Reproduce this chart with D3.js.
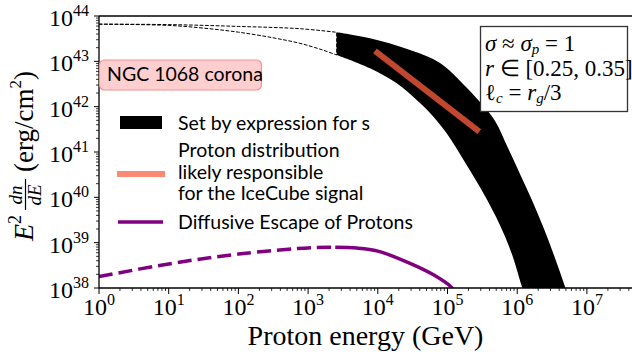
<!DOCTYPE html>
<html>
<head>
<meta charset="utf-8">
<script src="https://cdn.jsdelivr.net/npm/d3@7"></script>
<style>
body { margin: 0; background: #fff; }
svg { display: block; }
.serif { font-family: "Liberation Serif", "Times New Roman", serif; }
.sans { font-family: Lato, "DejaVu Sans", sans-serif; font-size: 19.5px; }
</style>
</head>
<body>
<svg id="chart" width="632" height="356"></svg>
<script>
// band "set by expression for s" : [E (GeV), E^2 dn/dE (erg/cm^2)]
var bandUpper = [[2.57e3, 4.37e43], [7.73e3, 3.22e43], [2.9e4, 1.77e43], [7.8e4, 9.17e42],
    [1.67e5, 3.16e42], [2.92e5, 1.26e42], [4.81e5, 4.81e41], [7.38e5, 1.22e41],
    [1.1e6, 3.25e40], [1.63e6, 8.67e39], [2.34e6, 2.31e39], [3.37e6, 5.3e38],
    [4.85e6, 1.06e38], [6.1e6, 3.2e37]];
var bandLower = [[2.57e3, 1.38e43], [7.73e3, 7.0e42], [1.87e4, 3.27e42], [3.61e4, 1.4e42],
    [5.61e4, 7.23e41], [9.73e4, 2.58e41], [1.88e5, 5.14e40], [3.26e5, 1.24e40],
    [5.66e5, 2.43e39], [8.41e5, 5.57e38], [1.17e6, 1.06e38], [1.43e6, 4.2e37]];

// dashed continuation of the band at low energy
var dashUpper = [[1, 6.6e43], [10, 6.46e43], [100, 5.89e43], [760, 5.25e43], [2.57e3, 4.37e43]];
var dashLower = [[1, 6.6e43], [10, 6.2e43], [31.6, 5.4e43], [100, 4.4e43], [316, 3.3e43],
    [760, 2.5e43], [1.58e3, 1.8e43], [2.57e3, 1.38e43]];

// proton distribution for the IceCube signal
var icecube = [[9.1e3, 1.7e43], [2.86e5, 2.8e41]];

// diffusive escape of protons
var escapeDashed = [[1, 1.78e38], [10, 3.4e38], [100, 5.6e38], [1.17e3, 7.8e38], [2.45e3, 7.9e38]];
var escapeSolid = [[2.45e3, 7.9e38], [5e3, 7.6e38], [1e4, 6.5e38], [2.9e4, 3.5e38],
    [6.3e4, 1.95e38], [1.15e5, 1.02e38], [1.4e5, 6.3e37]];

var xMajor = [1e0, 1e1, 1e2, 1e3, 1e4, 1e5, 1e6, 1e7];
var yMajor = [1e38, 1e39, 1e40, 1e41, 1e42, 1e43, 1e44];

var legendLabels = ["Set by expression for s",
    ["Proton distribution", "likely responsible", "for the IceCube signal"],
    "Diffusive Escape of Protons"];

var svg = d3.select("#chart"),
    width = +svg.attr("width"),
    height = +svg.attr("height");

var plotLeft = 99, plotTop = 16, plotBottom = 288;

var x = d3.scaleLog().domain([1, Math.pow(10, 7.647)]).range([plotLeft, width]);
var y = d3.scaleLog().domain([1e38, 1e44]).range([plotBottom, plotTop]);

svg.append("clipPath").attr("id", "plot-area")
    .append("rect")
    .attr("x", plotLeft).attr("y", plotTop)
    .attr("width", width - plotLeft).attr("height", plotBottom - plotTop);

var plot = svg.append("g").attr("clip-path", "url(#plot-area)");

var line = d3.line()
    .x(function (d) { return x(d[0]); })
    .y(function (d) { return y(d[1]); })
    .curve(d3.curveCatmullRom.alpha(0.5));

function closedShape(a, b) {
    return line(a) + line(b.slice().reverse()).replace(/^M/, "L") + "Z";
}

// black band
plot.append("path")
    .attr("d", closedShape(bandUpper, bandLower))
    .attr("fill", "#000");

// dashed outline at low energies
plot.append("path")
    .attr("d", closedShape(dashUpper, dashLower))
    .attr("fill", "none")
    .attr("stroke", "#000")
    .attr("stroke-width", 1)
    .attr("stroke-dasharray", "3.7,1.6");

// IceCube proton distribution
plot.append("path")
    .attr("d", line(icecube))
    .attr("fill", "none")
    .attr("stroke", "#c2472f")
    .attr("stroke-width", 6);

// diffusive escape
plot.append("path")
    .attr("d", line(escapeDashed))
    .attr("fill", "none")
    .attr("stroke", "#800080")
    .attr("stroke-width", 3.5)
    .attr("stroke-dasharray", "14,6");
plot.append("path")
    .attr("d", line(escapeSolid))
    .attr("fill", "none")
    .attr("stroke", "#800080")
    .attr("stroke-width", 3.5);

// minor ticks
var xMinor = [], yMinor = [];
xMajor.forEach(function (v) {
    for (var m = 2; m < 10; m++) if (v * m < x.domain()[1]) xMinor.push(v * m);
});
yMajor.slice(0, -1).forEach(function (v) {
    for (var m = 2; m < 10; m++) yMinor.push(v * m);
});

var axes = svg.append("g").attr("stroke", "#000");

axes.selectAll(".xminor").data(xMinor).enter().append("line")
    .attr("x1", function (d) { return x(d); }).attr("x2", function (d) { return x(d); })
    .attr("y1", plotBottom).attr("y2", plotBottom + 3).attr("stroke-width", 0.8);
axes.selectAll(".xmajor").data(xMajor).enter().append("line")
    .attr("x1", function (d) { return x(d); }).attr("x2", function (d) { return x(d); })
    .attr("y1", plotBottom).attr("y2", plotBottom + 6).attr("stroke-width", 1);
axes.selectAll(".yminor").data(yMinor).enter().append("line")
    .attr("y1", function (d) { return y(d); }).attr("y2", function (d) { return y(d); })
    .attr("x1", plotLeft).attr("x2", plotLeft - 3).attr("stroke-width", 0.8);
axes.selectAll(".ymajor").data(yMajor).enter().append("line")
    .attr("y1", function (d) { return y(d); }).attr("y2", function (d) { return y(d); })
    .attr("x1", plotLeft).attr("x2", plotLeft - 5).attr("stroke-width", 1);

// spines
axes.append("line").attr("x1", plotLeft).attr("x2", plotLeft).attr("y1", plotTop).attr("y2", plotBottom).attr("stroke-width", 1.3);
axes.append("line").attr("x1", plotLeft).attr("x2", width).attr("y1", plotBottom).attr("y2", plotBottom).attr("stroke-width", 1.3);
axes.append("line").attr("x1", plotLeft).attr("x2", width).attr("y1", plotTop).attr("y2", plotTop).attr("stroke-width", 1.3);

function powLabel(sel) {
    sel.append("tspan").text("10");
    sel.append("tspan").attr("dy", -10).attr("font-size", 16)
        .text(function (d) { return Math.round(Math.log10(d)); });
}

svg.selectAll(".xlab").data(xMajor).enter().append("text")
    .attr("class", "serif")
    .attr("font-size", 24)
    .attr("text-anchor", "middle")
    .attr("x", function (d) { return x(d); })
    .attr("y", 315)
    .call(powLabel);

svg.selectAll(".ylab").data(yMajor).enter().append("text")
    .attr("class", "serif")
    .attr("font-size", 24)
    .attr("text-anchor", "end")
    .attr("x", plotLeft - 10)
    .attr("y", function (d) { return y(d) + 10; })
    .call(powLabel);

// axis titles
svg.append("text")
    .attr("class", "serif")
    .attr("font-size", 28)
    .attr("text-anchor", "middle")
    .attr("x", (plotLeft + width) / 2)
    .attr("y", 345)
    .text("Proton energy (GeV)");

var yt = svg.append("g")
    .attr("class", "serif")
    .attr("transform", "translate(33," + (plotTop + plotBottom) / 2 + ") rotate(-90)");
var e2 = yt.append("text").attr("x", -89).attr("y", 0).attr("font-size", 28);
e2.append("tspan").attr("font-style", "italic").text("E");
e2.append("tspan").attr("font-size", 18).attr("dy", -12).text("2");
yt.append("text").attr("x", -43).attr("y", -11).attr("font-size", 19)
    .attr("text-anchor", "middle").attr("font-style", "italic").text("dn");
yt.append("line").attr("x1", -58).attr("x2", -27).attr("y1", -7.5).attr("y2", -7.5)
    .attr("stroke", "#000").attr("stroke-width", 1.2);
yt.append("text").attr("x", -43).attr("y", 8).attr("font-size", 19)
    .attr("text-anchor", "middle").attr("font-style", "italic").text("dE");
var unit = yt.append("text").attr("x", -20).attr("y", 0).attr("font-size", 27);
unit.append("tspan").text("(erg/cm");
unit.append("tspan").attr("font-size", 17).attr("dy", -12).text("2");
unit.append("tspan").attr("dy", 12).text(")");

// NGC 1068 label
svg.append("rect")
    .attr("x", 99.5).attr("y", 60).attr("width", 162).attr("height", 30)
    .attr("rx", 5)
    .attr("fill", "#ffcfcf")
    .attr("stroke", "#f29292")
    .attr("stroke-width", 1.2);
svg.append("text").attr("class", "sans")
    .attr("x", 107).attr("y", 81)
    .text("NGC 1068 corona");

// legend
var legend = svg.append("g").attr("class", "sans");
legend.append("rect").attr("x", 120).attr("y", 116).attr("width", 42).attr("height", 13).attr("fill", "#000");
legend.append("text").attr("x", 178).attr("y", 130).text(legendLabels[0]);
legend.append("line").attr("x1", 117).attr("x2", 165).attr("y1", 174).attr("y2", 174)
    .attr("stroke", "#fa8a74").attr("stroke-width", 6);
legendLabels[1].forEach(function (t, i) {
    legend.append("text").attr("x", 178).attr("y", 157 + i * 21.7).text(t);
});
legend.append("line").attr("x1", 118).attr("x2", 163).attr("y1", 222).attr("y2", 222)
    .attr("stroke", "#800080").attr("stroke-width", 3.5);
legend.append("text").attr("x", 178).attr("y", 228.5).text(legendLabels[2]);

// parameter box
svg.append("rect")
    .attr("x", 480.5).attr("y", 26.5).attr("width", 147).attr("height", 85)
    .attr("fill", "#fff").attr("stroke", "#333").attr("stroke-width", 1.3);
var box = svg.append("g").attr("class", "serif").attr("font-size", 23);
var l1 = box.append("text").attr("x", 485).attr("y", 51);
l1.append("tspan").attr("font-style", "italic").text("σ");
l1.append("tspan").text(" ≈ ");
l1.append("tspan").attr("font-style", "italic").text("σ");
l1.append("tspan").attr("font-style", "italic").attr("font-size", 15).attr("dy", 3).text("p");
l1.append("tspan").attr("dy", -3).text(" = 1");
var l2 = box.append("text").attr("x", 485).attr("y", 76);
l2.append("tspan").attr("font-style", "italic").text("r");
l2.append("tspan").text(" ∈ [0.25, 0.35]");
var l3 = box.append("text").attr("x", 485).attr("y", 100);
l3.append("tspan").text("ℓ");
l3.append("tspan").attr("font-style", "italic").attr("font-size", 15).attr("dy", 3).text("c");
l3.append("tspan").attr("dy", -3).text(" = ");
l3.append("tspan").attr("font-style", "italic").text("r");
l3.append("tspan").attr("font-style", "italic").attr("font-size", 15).attr("dy", 3).text("g");
l3.append("tspan").attr("dy", -3).text("/3");
</script>
</body>
</html>
